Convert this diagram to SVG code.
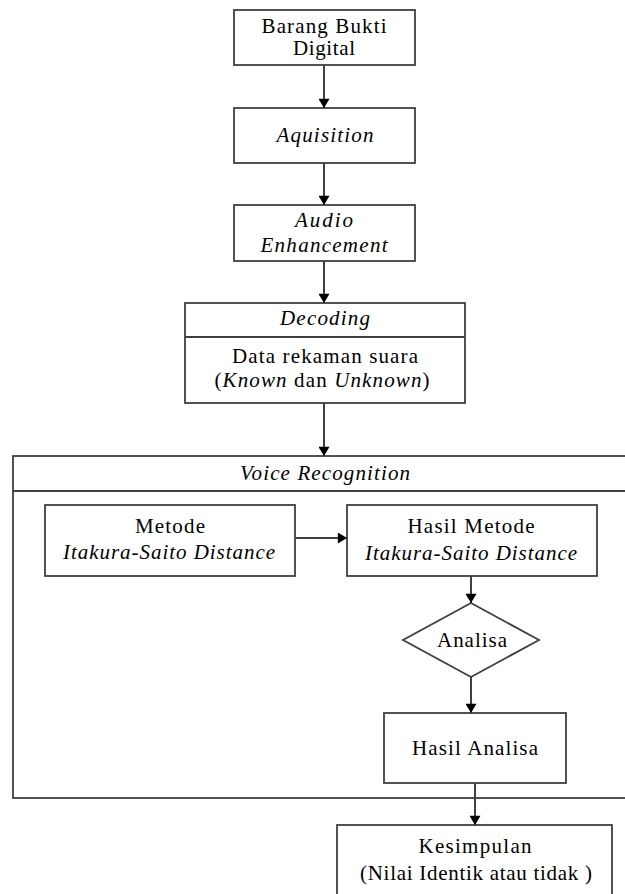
<svg xmlns="http://www.w3.org/2000/svg" width="625" height="894" viewBox="0 0 625 894">
<style>
.box{fill:#fff;stroke:#404040;stroke-width:1.8}
.ln{fill:none;stroke:#404040;stroke-width:1.8}
.c{stroke:#404040;stroke-width:2;fill:none;marker-end:url(#arr)}
text{font-family:"Liberation Serif","DejaVu Serif","Noto Serif",Tinos,FreeSerif,"Nimbus Roman",Times,serif;font-size:21px;fill:#000;text-anchor:middle}
.i{font-style:italic}
</style>
<defs>
<marker id="arr" viewBox="0 0 10 12" refX="10" refY="6" markerWidth="12" markerHeight="11" markerUnits="userSpaceOnUse" orient="auto">
<path d="M0,0 L10,6 L0,12 Z" fill="#000"/>
</marker>
</defs>
<g id="voice-recognition">
<rect class="box" x="13" y="456" width="630" height="342"/>
<line class="ln" x1="13" y1="491" x2="630" y2="491"/>
<text class="i" x="325" y="480" textLength="170" lengthAdjust="spacing">Voice Recognition</text>
</g>
<g id="barang-bukti">
<rect class="box" x="234" y="10" width="181" height="55"/>
<text x="324" y="33" textLength="125" lengthAdjust="spacing">Barang Bukti</text>
<text x="324" y="55" textLength="62" lengthAdjust="spacing">Digital</text>
</g>
<g id="aquisition">
<rect class="box" x="234" y="108" width="181" height="55"/>
<text class="i" x="325" y="142" textLength="97" lengthAdjust="spacing">Aquisition</text>
</g>
<g id="audio-enhancement">
<rect class="box" x="234" y="205" width="181" height="56"/>
<text class="i" x="324" y="227" textLength="58" lengthAdjust="spacing">Audio</text>
<text class="i" x="324" y="252" textLength="127" lengthAdjust="spacing">Enhancement</text>
</g>
<g id="decoding">
<rect class="box" x="185" y="303" width="280" height="100"/>
<line class="ln" x1="185" y1="337" x2="465" y2="337"/>
<text class="i" x="325" y="325" textLength="90" lengthAdjust="spacing">Decoding</text>
<text x="325" y="363" textLength="186" lengthAdjust="spacing">Data rekaman suara</text>
<text x="322" y="387" textLength="215" lengthAdjust="spacing">(<tspan class="i">Known</tspan> dan <tspan class="i">Unknown</tspan>)</text>
</g>
<g id="metode">
<rect class="box" x="45" y="505" width="250" height="71"/>
<text x="170" y="533" textLength="70" lengthAdjust="spacing">Metode</text>
<text class="i" x="169" y="559" textLength="212" lengthAdjust="spacing">Itakura-Saito Distance</text>
</g>
<g id="hasil-metode">
<rect class="box" x="347" y="505" width="250" height="71"/>
<text x="471" y="533" textLength="127" lengthAdjust="spacing">Hasil Metode</text>
<text class="i" x="471" y="560" textLength="212" lengthAdjust="spacing">Itakura-Saito Distance</text>
</g>
<g id="analisa">
<polygon class="box" points="471,603 539,640 471,677 403,640"/>
<text x="472" y="647" textLength="70" lengthAdjust="spacing">Analisa</text>
</g>
<g id="hasil-analisa">
<rect class="box" x="384" y="713" width="182" height="70"/>
<text x="475" y="755" textLength="126" lengthAdjust="spacing">Hasil Analisa</text>
</g>
<g id="kesimpulan">
<rect class="box" x="337" y="825" width="275" height="75"/>
<text x="475" y="853" textLength="113" lengthAdjust="spacing">Kesimpulan</text>
<text x="476" y="880" textLength="232" lengthAdjust="spacing">(Nilai Identik atau tidak )</text>
</g>
<g id="connectors">
<line class="c" x1="324" y1="65" x2="324" y2="108"/>
<line class="c" x1="324" y1="163" x2="324" y2="205"/>
<line class="c" x1="324" y1="261" x2="324" y2="303"/>
<line class="c" x1="324" y1="403" x2="324" y2="456"/>
<line class="c" x1="295" y1="538" x2="347" y2="538"/>
<line class="c" x1="471" y1="576" x2="471" y2="603"/>
<line class="c" x1="471" y1="677" x2="471" y2="713"/>
<line class="c" x1="475" y1="783" x2="475" y2="825"/>
</g>
</svg>
